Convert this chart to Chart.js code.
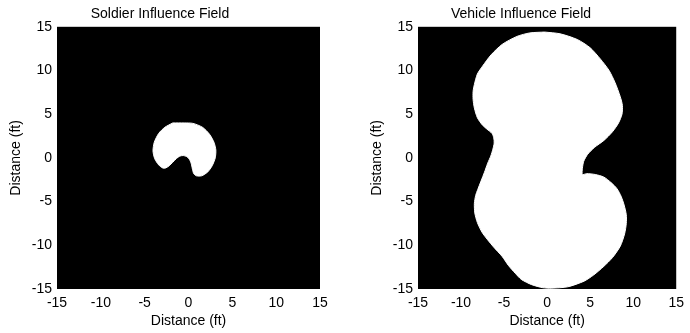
<!DOCTYPE html>
<html>
<head>
<meta charset="utf-8">
<script src="https://cdn.jsdelivr.net/npm/chart.js@4/dist/chart.umd.min.js"></script>
<style>
  body { margin: 0; background: #fff; }
  .wrap { position: absolute; top: 0; width: 345px; height: 333px; }
</style>
</head>
<body>
<div class="wrap" style="left:0"><canvas id="soldier" width="345" height="333"></canvas></div>
<div class="wrap" style="left:345px"><canvas id="vehicle" width="345" height="333"></canvas></div>
<script>
// outline of the soldier field (ft), clockwise from the top
const soldierX = [-1.8, -0.5, 0.5, 1.6, 2.4, 2.9, 3.12, 3.05, 2.7, 2.2, 1.5, 0.9, 0.6, 0.45, 0.35, 0.15, -0.2, -0.6, -1.0, -1.35, -1.8, -2.2, -2.6, -2.95, -3.4, -3.85, -4.05, -3.9, -3.4, -2.7, -1.8];
const soldierY = [4.0, 4.0, 3.95, 3.5, 2.7, 1.8, 0.9, 0, -0.9, -1.6, -2.05, -2.05, -1.8, -1.3, -0.8, -0.25, 0.15, 0.27, 0.2, -0.05, -0.5, -0.9, -1.15, -1.15, -0.8, -0.1, 0.8, 1.8, 2.8, 3.5, 4.0];

// outline of the vehicle field (ft), clockwise from the top
const vehicleX = [-0.3, 1.5, 3.5, 5.0, 6.2, 7.2, 7.9, 8.5, 8.75, 8.7, 8.3, 7.6, 6.6, 5.5, 4.7, 4.25, 4.1, 4.1, 4.6, 5.6, 6.6, 7.4, 8.1, 8.6, 8.95, 9.2, 9.2, 9.0, 8.5, 7.6, 6.6, 5.4, 4.3, 2.4, 0.5, -0.5, -1.8, -3.0, -3.7, -4.5, -5.2, -6.3, -7.5, -8.1, -8.4, -8.45, -8.3, -8.05, -7.3, -6.9, -6.55, -6.3, -6.15, -6.2, -6.4, -7.0, -7.55, -8.1, -8.45, -8.6, -8.6, -8.45, -8.1, -7.5, -6.5, -5.2, -3.5, -2.0, -0.3];
const vehicleY = [14.4, 14.2, 13.55, 12.6, 11.3, 10.0, 8.6, 7.0, 6.0, 5.0, 4.0, 3.0, 2.0, 1.2, 0.4, -0.4, -1.2, -1.9, -1.8, -1.9, -2.2, -2.8, -3.5, -4.4, -5.4, -6.5, -7.5, -8.7, -10.1, -11.4, -12.4, -13.4, -14.1, -14.75, -14.9, -14.85, -14.5, -13.9, -13.2, -12.3, -11.3, -10.1, -8.6, -7.4, -6.3, -5.2, -4.3, -3.6, -1.7, -0.6, 0.2, 1.0, 1.7, 2.3, 2.8, 3.3, 3.8, 4.6, 5.7, 6.7, 7.6, 8.4, 9.6, 10.5, 11.8, 13.0, 13.9, 14.3, 14.4];

const tickValues = [-15, -10, -5, 0, 5, 10, 15];
const axisLabel = "Distance (ft)";

const blackArea = {
  id: "blackArea",
  beforeDatasetsDraw(chart) {
    const a = chart.chartArea;
    chart.ctx.save();
    chart.ctx.fillStyle = "#000";
    chart.ctx.fillRect(a.left, a.top, a.right - a.left, a.bottom - a.top);
    chart.ctx.restore();
  }
};

function toPoints(xs, ys) {
  return xs.map((x, i) => ({ x: x, y: ys[i] }));
}

function axis(title, isY) {
  return {
    type: "linear",
    min: -15,
    max: 15,
    afterBuildTicks: (s) => { s.ticks = tickValues.map((v) => ({ value: v })); },
    afterFit: (s) => { if (isY) s.width = 57; else s.height = 44; },
    grid: { display: false, drawTicks: false, tickLength: 0 },
    border: { display: false },
    ticks: {
      color: "#000",
      padding: isY ? 5 : 6,
      font: { family: "Liberation Sans", size: 14 },
      callback: (v) => v
    },
    title: {
      display: true,
      text: title,
      color: "#000",
      font: { family: "Liberation Sans", size: 14 },
      padding: isY ? { top: 8, bottom: 0 } : { top: 0, bottom: 3 }
    }
  };
}

function field(id, name, xs, ys, padLeft, padRight) {
  new Chart(document.getElementById(id), {
    type: "scatter",
    data: {
      datasets: [{
        data: toPoints(xs, ys),
        showLine: true,
        fill: "shape",
        backgroundColor: "#fff",
        borderColor: "#fff",
        borderWidth: 1,
        pointRadius: 0,
        tension: 0.25
      }]
    },
    options: {
      responsive: false,
      animation: false,
      layout: { padding: { left: padLeft, right: padRight, top: 0, bottom: 0 } },
      plugins: {
        legend: { display: false },
        tooltip: { enabled: false },
        title: {
          display: true,
          text: name,
          color: "#000",
          font: { family: "Liberation Sans", size: 14, weight: "normal" },
          padding: { top: 6, bottom: 4 }
        }
      },
      scales: { x: axis(axisLabel, false), y: axis(axisLabel, true) }
    },
    plugins: [blackArea]
  });
}

field("soldier", "Soldier Influence Field", soldierX, soldierY, 0, 25);
field("vehicle", "Vehicle Influence Field", vehicleX, vehicleY, 16, 9);
</script>
</body>
</html>
